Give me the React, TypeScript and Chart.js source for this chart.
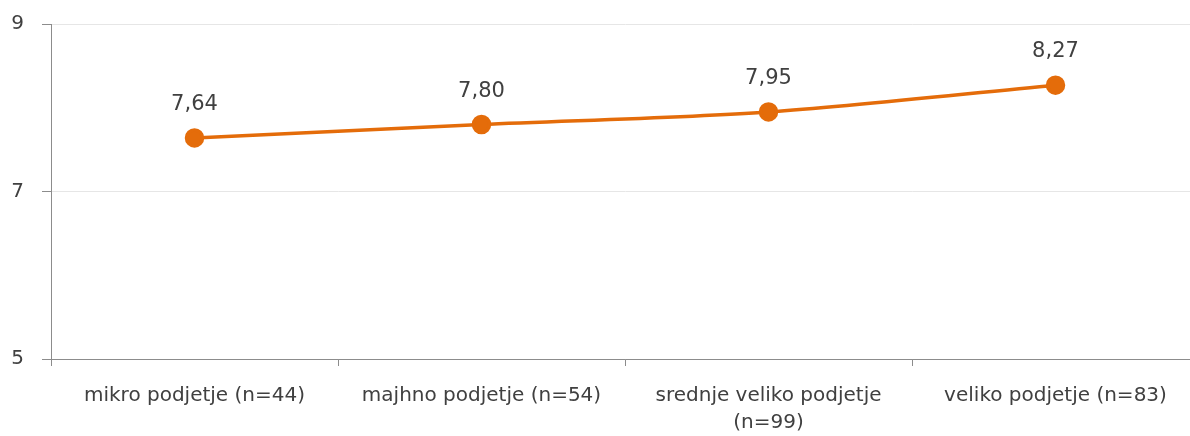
import React, { useEffect, useRef } from "react";
import { Chart, registerables } from "chart.js";

Chart.register(...registerables);

const categories: (string | string[])[] = [
  "mikro podjetje (n=44)",
  "majhno podjetje (n=54)",
  ["srednje veliko podjetje", "(n=99)"],
  "veliko podjetje (n=83)",
];
const values: number[] = [7.64, 7.8, 7.95, 8.27];
const yTicks: number[] = [5, 7, 9];

const FONT = "'DejaVu Sans', Verdana, sans-serif";
const ORANGE = "#E46C0A";

const labelPlugin = {
  id: "valueLabels",
  afterDatasetsDraw(chart: any) {
    const ctx = chart.ctx;
    const meta = chart.getDatasetMeta(0);
    ctx.save();
    ctx.font = `21px ${FONT}`;
    ctx.fillStyle = "#404040";
    ctx.textAlign = "center";
    ctx.textBaseline = "alphabetic";
    meta.data.forEach((pt: any, i: number) => {
      const txt = values[i].toFixed(2).replace(".", ",");
      ctx.fillText(txt, pt.x, pt.y - 28);
    });
    ctx.restore();
  },
};

export default function App() {
  const ref = useRef<HTMLCanvasElement>(null);
  useEffect(() => {
    if (!ref.current) return;
    const chart = new Chart(ref.current, {
      type: "line",
      data: {
        labels: categories as any,
        datasets: [
          {
            data: values,
            borderColor: ORANGE,
            backgroundColor: ORANGE,
            borderWidth: 3.5,
            pointRadius: 8,
            pointHoverRadius: 8,
            pointBackgroundColor: ORANGE,
            pointBorderColor: ORANGE,
            tension: 0.3,
          },
        ],
      },
      options: {
        animation: false,
        responsive: false,
        maintainAspectRatio: false,
        layout: { autoPadding: false, padding: { top: 24, right: 0, left: 0, bottom: 0 } },
        plugins: { legend: { display: false }, tooltip: { enabled: false } },
        scales: {
          x: {
            offset: true,
            grid: {
              offset: true,
              drawOnChartArea: false,
              drawTicks: true,
              tickLength: 7,
              tickColor: "#8c8c8c",
            },
            border: { color: "#8c8c8c", width: 1 },
            ticks: {
              color: "#404040",
              font: { family: FONT, size: 20, lineHeight: 1.35 },
              padding: 16,
              maxRotation: 0,
              autoSkip: false,
            },
            afterFit: (scale: any) => {
              scale.height = 77;
              scale.paddingLeft = 0;
              scale.paddingRight = 0;
            },
          },
          y: {
            min: 5,
            max: 9,
            afterBuildTicks: (scale: any) => {
              scale.ticks = yTicks.map((v) => ({ value: v }));
            },
            grid: {
              color: (c: any) => (c.tick && c.tick.value === 5 ? "#8c8c8c" : "#e6e6e6"),
              drawTicks: true,
              tickLength: 9,
              tickColor: "#8c8c8c",
            },
            border: { color: "#8c8c8c", width: 1 },
            ticks: {
              color: "#404040",
              font: { family: FONT, size: 20 },
              padding: 18,
            },
            afterFit: (scale: any) => {
              scale.width = 51;
              scale.paddingTop = 0;
              scale.paddingBottom = 0;
            },
          },
        },
      },
      plugins: [labelPlugin],
    });
    return () => chart.destroy();
  }, []);
  return (
    <div
      style={{
        position: "fixed",
        left: 0,
        top: 0,
        width: 1190,
        height: 436,
        overflow: "hidden",
        background: "#fff",
      }}
    >
      <canvas ref={ref} width={1199} height={436} style={{ display: "block" }} />
    </div>
  );
}
